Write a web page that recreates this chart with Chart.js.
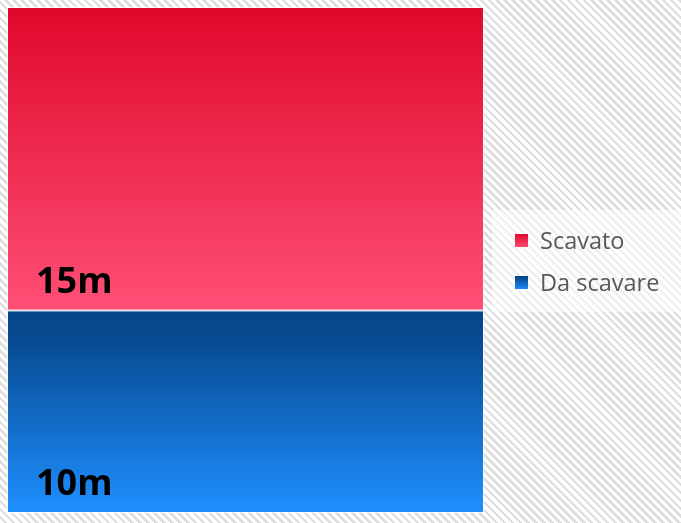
<!DOCTYPE html>
<html>
<head>
    <meta charset="utf-8">
    <title>Scavo</title>
    <style>
        html, body {
            margin: 0;
            padding: 0;
        }
        body {
            width: 681px;
            height: 523px;
            background: repeating-linear-gradient(45deg, #ffffff 0px, #ffffff 3px, #dedede 3px, #dedede 5.6px);
        }
        #wrap {
            position: relative;
            width: 681px;
            height: 523px;
        }
    </style>
</head>
<body>
    <div id="wrap">
        <canvas id="myChart" width="681" height="523"></canvas>
    </div>
    <script src="https://cdn.jsdelivr.net/npm/chart.js"></script>
    <script>
        // Data
        const categories = ['Scavo'];
        const seriesNames = ['Da scavare', 'Scavato'];
        const daScavare = [10];
        const scavato = [15];
        const valueLabels = ['10m', '15m'];
        const yMax = 25;

        // gradient for a segment, from its top pixel to its bottom pixel
        function segGradient(ctx, top, bottom, stops) {
            const g = ctx.createLinearGradient(0, top, 0, bottom);
            stops.forEach(s => g.addColorStop(s[0], s[1]));
            return g;
        }

        const redStops = [[0, '#e0082c'], [1, '#ff4f76']];
        const blueStops = [[0, '#03468a'], [0.12, '#06498f'], [1, '#1f8fff']];

        function colorFor(context, stops) {
            const chart = context.chart;
            const y = chart.scales.y;
            if (!y || !chart.chartArea) return stops[stops.length - 1][1];
            const di = context.datasetIndex;
            let base = 0;
            for (let i = 0; i < di; i++) base += chart.data.datasets[i].data[context.dataIndex];
            const val = base + chart.data.datasets[di].data[context.dataIndex];
            return segGradient(chart.ctx, y.getPixelForValue(val), y.getPixelForValue(base), stops);
        }

        const legendColors = {
            'Scavato': redStops,
            'Da scavare': blueStops
        };

        // labels "15m" / "10m" at bottom-left of each segment + white separators
        const segLabels = {
            id: 'segLabels',
            afterDatasetsDraw(chart) {
                const ctx = chart.ctx;
                const y = chart.scales.y;
                const area = chart.chartArea;
                ctx.save();
                let base = 0;
                chart.data.datasets.forEach((ds, i) => {
                    const top = base + ds.data[0];
                    const pxBottom = y.getPixelForValue(base);
                    ctx.font = 'bold 36px "Open Sans", sans-serif';
                    ctx.fillStyle = '#000';
                    ctx.textBaseline = 'alphabetic';
                    ctx.fillText(valueLabels[i], area.left + 28, pxBottom - 17);
                    base = top;
                });
                // separator
                const sep = y.getPixelForValue(daScavare[0]);
                ctx.strokeStyle = 'rgba(255,255,255,0.85)';
                ctx.lineWidth = 2;
                ctx.beginPath();
                ctx.moveTo(area.left, sep);
                ctx.lineTo(area.right, sep);
                ctx.stroke();
                // outline
                ctx.strokeStyle = 'rgba(255,255,255,0.7)';
                ctx.lineWidth = 1;
                ctx.strokeRect(area.left - 0.5, area.top - 0.5, area.right - area.left + 1, area.bottom - area.top + 1);
                ctx.restore();
            }
        };

        // legend on the right
        const sideLegend = {
            id: 'sideLegend',
            afterDraw(chart) {
                const ctx = chart.ctx;
                ctx.save();
                ctx.fillStyle = 'rgba(255,255,255,0.55)';
                ctx.fillRect(492, 210, 189, 102);
                const items = ['Scavato', 'Da scavare'];
                items.forEach((name, i) => {
                    const cy = 241 + i * 42;
                    ctx.fillStyle = segGradient(ctx, cy - 7, cy + 7, legendColors[name]);
                    ctx.fillRect(515, cy - 7, 13, 13);
                    ctx.fillStyle = '#595959';
                    ctx.font = '23.5px "Open Sans", sans-serif';
                    ctx.textBaseline = 'middle';
                    ctx.fillText(name, 540, cy + 1);
                });
                ctx.restore();
            }
        };

        const data = {
            labels: categories,
            datasets: [{
                label: seriesNames[0],
                data: daScavare,
                backgroundColor: (c) => colorFor(c, blueStops),
                borderWidth: 0
            }, {
                label: seriesNames[1],
                data: scavato,
                backgroundColor: (c) => colorFor(c, redStops),
                borderWidth: 0
            }]
        };

        const options = {
            responsive: false,
            animation: false,
            layout: {
                padding: { left: 8, top: 8, right: 198, bottom: 11 }
            },
            datasets: {
                bar: {
                    barPercentage: 1,
                    categoryPercentage: 1
                }
            },
            scales: {
                x: { stacked: true, display: false },
                y: { stacked: true, display: false, min: 0, max: yMax }
            },
            plugins: {
                legend: { display: false },
                tooltip: { enabled: false }
            }
        };

        const ctx = document.getElementById('myChart').getContext('2d');
        const myChart = new Chart(ctx, {
            type: 'bar',
            data: data,
            options: options,
            plugins: [segLabels, sideLegend]
        });
    </script>
</body>
</html>
